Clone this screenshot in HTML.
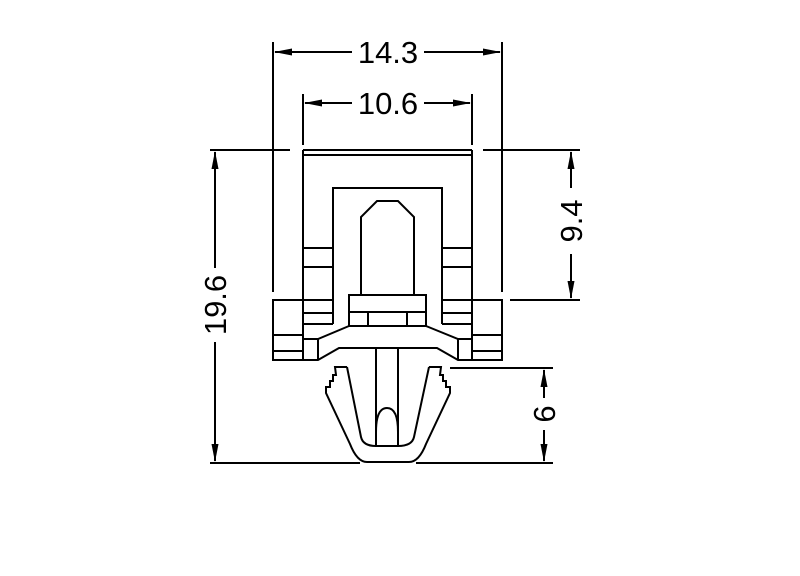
<!DOCTYPE html>
<html><head><style>
html,body{margin:0;padding:0;background:#fff;width:800px;height:576px;overflow:hidden}
text{font-family:"Liberation Sans",sans-serif;font-size:31px;fill:#000}
</style></head><body>
<svg width="800" height="576" viewBox="0 0 800 576" xmlns="http://www.w3.org/2000/svg">
<g stroke="#000" stroke-width="2" fill="none" stroke-linejoin="miter">
<line x1="273" y1="42" x2="273" y2="292"/>
<line x1="502" y1="42" x2="502" y2="292"/>
<line x1="303" y1="94" x2="303" y2="145"/>
<line x1="472" y1="94" x2="472" y2="145"/>
<line x1="210" y1="150" x2="290" y2="150"/>
<line x1="483" y1="150" x2="580" y2="150"/>
<line x1="510" y1="300" x2="580" y2="300"/>
<line x1="450" y1="368" x2="553" y2="368"/>
<line x1="210" y1="463" x2="360" y2="463"/>
<line x1="416" y1="463" x2="553" y2="463"/>
<line x1="275" y1="52" x2="352" y2="52"/><line x1="424" y1="52" x2="500" y2="52"/>
<line x1="305" y1="103" x2="352" y2="103"/><line x1="424" y1="103" x2="470" y2="103"/>
<line x1="215" y1="152" x2="215" y2="268"/><line x1="215" y1="342" x2="215" y2="461"/>
<line x1="571" y1="152" x2="571" y2="188"/><line x1="571" y1="254" x2="571" y2="298"/>
<line x1="544" y1="370" x2="544" y2="398"/><line x1="544" y1="430" x2="544" y2="461"/>
<line x1="303" y1="150" x2="472" y2="150"/>
<line x1="303" y1="155" x2="472" y2="155"/>
<line x1="303" y1="150" x2="303" y2="326"/>
<line x1="472" y1="150" x2="472" y2="326"/>
<polyline points="333,324 333,188 442,188 442,324"/>
<polygon points="361,295 361,217 377,201 398,201 414,217 414,295"/>
<rect x="349" y="295" width="77" height="31"/>
<line x1="349" y1="312" x2="426" y2="312"/>
<line x1="368" y1="312" x2="368" y2="326"/>
<line x1="407" y1="312" x2="407" y2="326"/>
<line x1="303" y1="248" x2="333" y2="248"/><line x1="303" y1="267" x2="333" y2="267"/>
<line x1="303" y1="300" x2="333" y2="300"/><line x1="303" y1="313" x2="333" y2="313"/><line x1="303" y1="324" x2="333" y2="324"/>
<line x1="442" y1="248" x2="472" y2="248"/><line x1="442" y1="267" x2="472" y2="267"/>
<line x1="442" y1="300" x2="472" y2="300"/><line x1="442" y1="313" x2="472" y2="313"/><line x1="442" y1="324" x2="472" y2="324"/>
<rect x="273" y="300" width="30" height="60"/>
<line x1="273" y1="335" x2="303" y2="335"/><line x1="273" y1="351" x2="303" y2="351"/>
<rect x="472" y="300" width="30" height="60"/>
<line x1="472" y1="335" x2="502" y2="335"/><line x1="472" y1="351" x2="502" y2="351"/>
<polyline points="303,326 303,360 318,360 339,348 437,348 458,360 472,360 472,326"/>
<polyline points="349,326 318,339 303,339"/>
<line x1="318" y1="339" x2="318" y2="360"/>
<polyline points="426,326 458,339 472,339"/>
<line x1="458" y1="339" x2="458" y2="360"/>
<line x1="376" y1="348" x2="376" y2="446"/>
<line x1="398" y1="348" x2="398" y2="446"/>
<path d="M376,446 L376,432 Q376,408 387,408 Q398,408 398,432 L398,446 Z"/>
<path d="M347,367 L361,437 Q363,446 376,446"/>
<path d="M429,367 L414,437 Q412,446 398,446"/>
<path d="M347,367 L335,367 L336,375 L333,375 L333,381 L330,381 L330,387 L326,387 L326,393 L350,444 Q357,462 367,462 L409,462 Q419,462 426,444 L450,393 L450,387 L446,387 L446,381 L443,381 L443,375 L440,375 L441,367 L429,367"/>
</g>
<g fill="#000">
<polygon points="274,52 292,48.5 292,55.5"/><polygon points="501,52 483,48.5 483,55.5"/>
<polygon points="304,103 322,99.5 322,106.5"/><polygon points="471,103 453,99.5 453,106.5"/>
<polygon points="215,151 211.5,169 218.5,169"/><polygon points="215,462 211.5,444 218.5,444"/>
<polygon points="571,151 567.5,169 574.5,169"/><polygon points="571,299 567.5,281 574.5,281"/>
<polygon points="544,369 540.5,387 547.5,387"/><polygon points="544,462 540.5,444 547.5,444"/>
</g>
<text x="388" y="63" text-anchor="middle">14.3</text>
<text x="388" y="114" text-anchor="middle">10.6</text>
<text transform="translate(226,305) rotate(-90)" text-anchor="middle">19.6</text>
<text transform="translate(582,221) rotate(-90)" text-anchor="middle">9.4</text>
<text transform="translate(555,414) rotate(-90)" text-anchor="middle">6</text>
</svg>
</body></html>
